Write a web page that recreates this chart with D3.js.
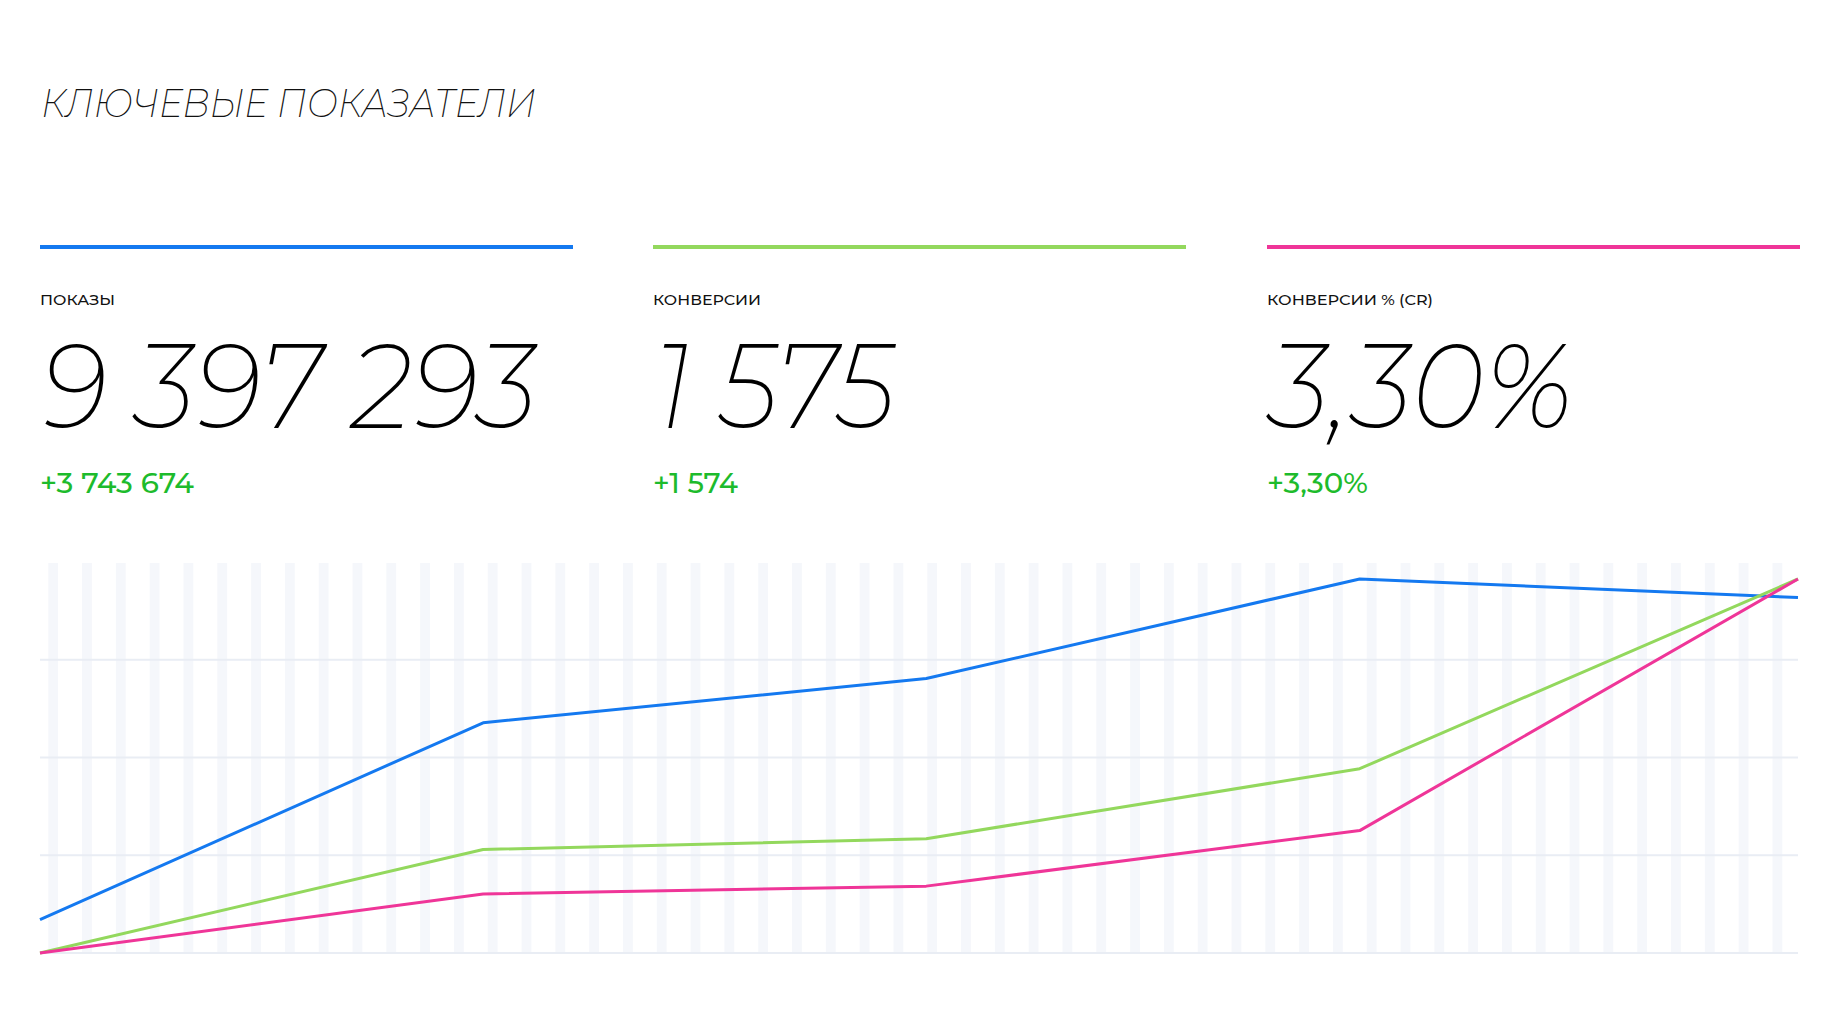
<!DOCTYPE html>
<html>
<head>
<meta charset="utf-8">
<script src="https://cdn.jsdelivr.net/npm/d3@7"></script>
<style>
  html, body { margin: 0; padding: 0; background: #ffffff; }
  svg { display: block; }
</style>
</head>
<body>
<svg id="chart" width="1840" height="1035"></svg>
<script>
// ---- data ----
const title = "КЛЮЧЕВЫЕ ПОКАЗАТЕЛИ";
const kpiLabels = ["ПОКАЗЫ", "КОНВЕРСИИ", "КОНВЕРСИИ % (CR)"];
const kpiValues = ["9 397 293", "1 575", "3,30%"];
const kpiDeltas = ["+3 743 674", "+1 574", "+3,30%"];
const seriesColors = ["#1479f0", "#93d85d", "#ef3598"];

const periods = ["2022-07-01", "2022-10-01", "2023-01-01", "2023-04-01", "2023-07-01"];
const impressions = [247000, 1707000, 2035000, 2773000, 2635293];
const conversions = [0, 210, 232, 374, 759];
const crPercent = [0, 0.52, 0.59, 1.08, 3.30];

const weeks = ["1","2","3","4","5","6","7","8","9","10","11","12","13","14","15","16","17","18","19","20","21","22","23","24","25","26","27","28","29","30","31","32","33","34","35","36","37","38","39","40","41","42","43","44","45","46","47","48","49","50","51","52"];
const gridTicks = [0, 1, 2, 3];

// ---- layout ----
const svg = d3.select("#chart");
const plot = { left: 40, right: 1798, top: 563, bottom: 953, dataTop: 579 };
const cols = [40, 653, 1267];
const colWidth = 533;
const FONT = "Montserrat, Inter, 'Noto Sans', sans-serif";

// title
svg.append("text")
  .attr("x", 41).attr("y", 117)
  .attr("font-family", FONT)
  .attr("font-style", "italic")
  .attr("font-weight", 200)
  .attr("font-size", 40)
  .attr("fill", "#111")
  .attr("textLength", 495)
  .attr("lengthAdjust", "spacingAndGlyphs")
  .text(title);

// KPI blocks
const valueWidths = [496, 241, 305];
const deltaWidths = [154, 85, 101];
const labelWidths = [75, 108, 166];
const kpi = svg.selectAll("g.kpi").data(kpiLabels).join("g").attr("class", "kpi")
  .attr("transform", (d, i) => `translate(${cols[i]},0)`);

kpi.append("rect")
  .attr("x", 0).attr("y", 245).attr("width", colWidth).attr("height", 4)
  .attr("fill", (d, i) => seriesColors[i]);

kpi.append("text")
  .attr("x", 0).attr("y", 305)
  .attr("font-family", FONT).attr("font-weight", 500).attr("font-size", 15)
  .attr("fill", "#111")
  .attr("textLength", (d, i) => labelWidths[i]).attr("lengthAdjust", "spacingAndGlyphs")
  .text(d => d);

kpi.append("text")
  .attr("x", 1).attr("y", 428)
  .attr("font-family", FONT).attr("font-weight", 200).attr("font-style", "italic").attr("font-size", 120)
  .attr("fill", "#000")
  .attr("textLength", (d, i) => valueWidths[i]).attr("lengthAdjust", "spacingAndGlyphs")
  .text((d, i) => kpiValues[i]);

kpi.append("text")
  .attr("x", 0).attr("y", 493)
  .attr("font-family", FONT).attr("font-weight", 500).attr("font-size", 28)
  .attr("fill", "#1dbb2c")
  .attr("textLength", (d, i) => deltaWidths[i]).attr("lengthAdjust", "spacingAndGlyphs")
  .text((d, i) => kpiDeltas[i]);

// ---- chart ----
const parse = d3.utcParse("%Y-%m-%d");
const dates = periods.map(parse);
const x = d3.scaleUtc().domain(d3.extent(dates)).range([plot.left, plot.right]);
const band = d3.scaleBand().domain(weeks).range([plot.left, plot.right]).paddingInner(0).paddingOuter(0);
const gridY = d3.scaleLinear().domain([0, 4]).range([plot.bottom, plot.top - 1]);

// background stripes
svg.append("g").selectAll("rect").data(weeks).join("rect")
  .attr("x", d => band(d) + band.bandwidth() * 0.245)
  .attr("y", plot.top)
  .attr("width", band.bandwidth() * 0.29)
  .attr("height", plot.bottom - plot.top)
  .attr("fill", "#f5f7fb");

// grid lines
svg.append("g").selectAll("line").data(gridTicks).join("line")
  .attr("x1", plot.left).attr("x2", plot.right)
  .attr("y1", d => gridY(d)).attr("y2", d => gridY(d))
  .attr("stroke", "#e9edf4").attr("stroke-width", 2);

// series lines, each on its own scale
const seriesList = [impressions, conversions, crPercent];
seriesList.forEach((vals, i) => {
  const y = d3.scaleLinear().domain([0, d3.max(vals)]).range([plot.bottom, plot.dataTop]);
  const line = d3.line().x((d, j) => x(dates[j])).y(d => y(d));
  svg.append("path")
    .datum(vals)
    .attr("d", line)
    .attr("fill", "none")
    .attr("stroke", seriesColors[i])
    .attr("stroke-width", 3)
    .attr("stroke-linejoin", "round");
});
</script>
</body>
</html>
